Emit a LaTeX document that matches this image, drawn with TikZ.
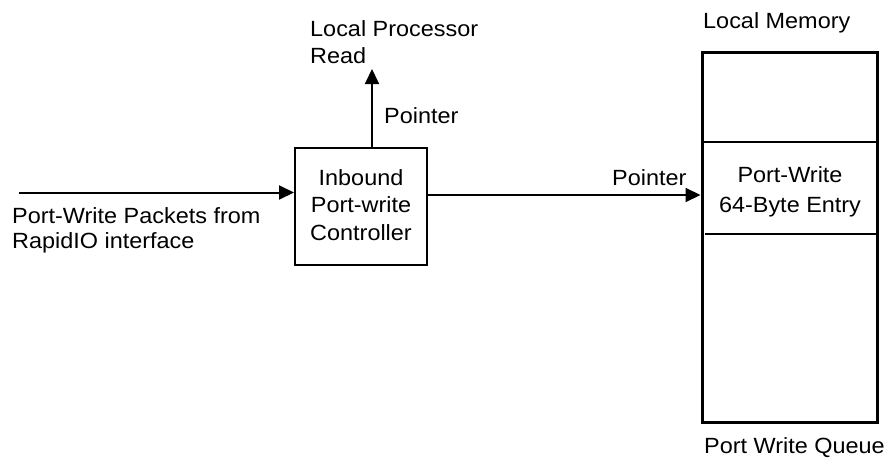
\documentclass[tikz,border=0pt]{standalone}
\usepackage{fontspec}
\setmainfont{Liberation Sans}[FakeStretch=1.065]
\usetikzlibrary{arrows.meta}
\begin{document}
\begin{tikzpicture}[x=1pt,y=-1pt,
  lbl/.style={font=\fontsize{22}{25}\selectfont, inner sep=0pt, anchor=base west},
  ctr/.style={font=\fontsize{22}{25}\selectfont, inner sep=0pt, anchor=base},
  conn/.style={line width=2pt, -{Triangle[length=15pt,width=14pt]}},
  box/.style={draw, line width=2pt}]
\useasboundingbox (0,0) rectangle (888,461);
% controller
\node[box, minimum width=132pt, minimum height=117pt, inner sep=0pt] (ctrl) at (361,206.5) {};
\node[ctr] (c1) at (361,185) {Inbound};
\node[ctr] (c2) at (361,212.5) {Port-write};
\node[ctr] (c3) at (361,240) {Controller};
% memory
\draw[line width=3pt] (702,52) rectangle (877,422);
\coordinate (memin) at (700.5,195);
\draw[line width=2pt] (702,142) -- (877,142);
\draw[line width=2pt] (705,234) -- (877,234);
\node[ctr] (e1) at (790,182) {Port-Write};
\node[ctr] (e2) at (790,212) {64-Byte Entry};
\node[lbl] (lm) at (703,28) {Local Memory};
\node[lbl] (pwq) at (704,453) {Port Write Queue};
% input
\coordinate (src) at (19,192.5);
\draw[conn] (src) -- (src -| ctrl.west);
\node[lbl] (in1) at (12,223) {Port-Write Packets from};
\node[lbl] (in2) at (12,248) {RapidIO interface};
% up
\coordinate (rd) at (372,69);
\draw[conn] (ctrl.north -| rd) -- (rd);
\node[lbl] (lp1) at (310,36) {Local Processor};
\node[lbl] (lp2) at (310,63) {Read};
\node[lbl] (p1) at (384,123) {Pointer};
% right
\draw[conn] (ctrl.east |- memin) -- (memin);
\node[lbl] (p2) at (612,185) {Pointer};
\end{tikzpicture}
\end{document}
